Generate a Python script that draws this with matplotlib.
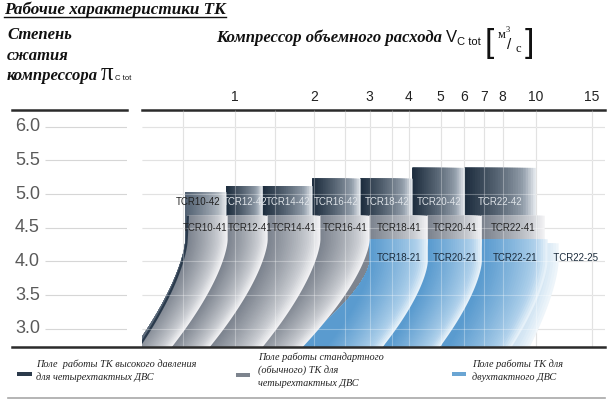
import numpy as np
import matplotlib
matplotlib.use('Agg')
import matplotlib.pyplot as plt
import matplotlib.colors as mcolors
from matplotlib.lines import Line2D
from matplotlib.patches import Rectangle

# ---------------- data ----------------
FRAMES = ['TCR10', 'TCR12', 'TCR14', 'TCR16', 'TCR18', 'TCR20', 'TCR22']

# high pressure fields (-42): right edge flow and max pressure ratio
HP_RIGHT = [0.93, 1.28, 1.98, 2.81, 4.11, 6.05, 10.0]
HP_TOP = [5.03, 5.12, 5.12, 5.23, 5.23, 5.39, 5.39]

# standard four-stroke fields (-41)
STD_RIGHT = [0.94, 1.336, 2.10, 3.0, 4.57, 6.9, 10.67]
STD_RIGHT_BOTTOM = [0.575, 0.803, 1.278, 1.816, 3.30, 4.97, 8.5]
STD_TOP = 4.68

# two-stroke fields (-21, -25)
TS_NAMES = ['TCR18-21', 'TCR20-21', 'TCR22-21', 'TCR22-25']
TS_LEFT = [3.0, 4.57, 6.9, 6.9]
TS_RIGHT = [4.57, 6.9, 10.9, 11.8]
TS_RIGHT_BOTTOM = [3.30, 4.97, 8.5, 9.6]
TS_TOP = [4.33, 4.33, 4.33, 4.27]

FIRST_LEFT = 0.662          # surge line of the smallest frame
FIRST_LEFT_BOTTOM = 0.434

KNEE_STD = 4.32
KNEE_TS = 4.0

X_TICKS = [1, 2, 3, 4, 5, 6, 7, 8, 10, 15]
X_GRID = [0.633, 1, 1.42, 2, 2.5, 3, 3.53, 4, 5, 6, 7, 8, 10, 15]
Y_TICKS = [3.0, 3.5, 4.0, 4.5, 5.0, 5.5, 6.0]
XLIM = (0.442, 16.5)
YLIM = (2.73, 6.25)

# the flow axis of the original is only roughly logarithmic
ANCHOR_V = np.log10([0.4, 1, 2, 3, 4, 5, 6, 7, 8, 10, 15, 20])
ANCHOR_P = np.array([131, 235, 314, 370, 409, 441, 464, 484, 503, 536, 592, 632.0])


def fwd(x):
    x = np.clip(np.asarray(x, dtype=float), 1e-3, None)
    return np.interp(np.log10(x), ANCHOR_V, ANCHOR_P)


def inv(p):
    return 10 ** np.interp(np.asarray(p, dtype=float), ANCHOR_P, ANCHOR_V)


SERIF = 'Liberation Serif'
SANS = 'Liberation Sans'

# colours: (edge highlight, light, dark)
C_HP = ('#dfe4e9', '#9aa5b1', '#1e2e3f')
C_HP_FIRST = ('#e6e9ed', '#b9c0c8', '#536273')
C_STD = ('#f1f1f3', '#d8dade', '#7d848f')
C_TS = ('#e6f1f9', '#b6d5ed', '#5a9bcf')
C_TS25 = ('#eef5fa', '#d6e7f4', '#abcce7')


def mix(a, b, t):
    a = np.array(mcolors.to_rgb(a))
    b = np.array(mcolors.to_rgb(b))
    return tuple(a + (b - a) * t)


def shade(cols, u):
    if u < 0.15:
        return mix(cols[0], cols[1], u / 0.15)
    return mix(cols[1], cols[2], ((u - 0.15) / 0.85) ** 0.8)


def draw_field(ax, xl, xr, xr_bot, top, knee, cols, lean_l=75.0, n=28):
    pl, pr = fwd(xl), fwd(xr)
    lean_r = pr - fwd(xr_bot)
    ys = np.linspace(knee, YLIM[0], 40)
    s = ((knee - ys) / (knee - YLIM[0])) ** 1.5
    left = pl - lean_l * s
    right = pr - lean_r * s
    width = pr - pl
    for k in range(n):
        d = width * k / n
        rr = np.maximum(right - d, left)
        px = np.concatenate([[pl, max(pr - d, pl)], rr, left[::-1]])
        py = np.concatenate([[top, top], ys, ys[::-1]])
        ax.fill(inv(px), py, color=shade(cols, k / (n - 1)), lw=0)


def mid(a, b, shift=0.0):
    return float(inv((fwd(a) + fwd(b)) / 2 + shift))


W, H = 610, 403
fig = plt.figure(figsize=(W / 100, H / 100), dpi=100)


def fx(x):
    return x / W


def fy(y):
    return 1 - y / H


ax = fig.add_axes([fx(142), fy(347), fx(605) - fx(142), fy(110) - fy(347)])
ax.set_xscale('function', functions=(fwd, inv))
ax.set_xlim(*XLIM)
ax.set_ylim(*YLIM)

# grid under the fields
ax.vlines(X_GRID, YLIM[0], YLIM[1], colors='#d6d6d6', lw=0.8, zorder=0)
ax.hlines(Y_TICKS, XLIM[0], XLIM[1], colors='#d6d6d6', lw=0.8, zorder=0)

# fields, largest frame first so smaller frames lie on top
for i in range(len(FRAMES) - 1, -1, -1):
    first = i == 0
    std_left = FIRST_LEFT if first else STD_RIGHT[i - 1]
    hp_left = float(inv(fwd(FIRST_LEFT) - 2.5)) if first else HP_RIGHT[i - 1]
    std_lean = fwd(FIRST_LEFT) - fwd(FIRST_LEFT_BOTTOM) if first else 75.0
    hp_lean = std_lean + 2.5 if first else 75.0
    lean_r = fwd(STD_RIGHT[i]) - fwd(STD_RIGHT_BOTTOM[i])
    hp_bot = float(inv(fwd(HP_RIGHT[i]) - lean_r))
    draw_field(ax, hp_left, HP_RIGHT[i], hp_bot, HP_TOP[i], KNEE_STD,
               C_HP_FIRST if first else C_HP, hp_lean)
    draw_field(ax, std_left, STD_RIGHT[i], STD_RIGHT_BOTTOM[i], STD_TOP, KNEE_STD,
               C_STD, std_lean)
    for j in range(len(TS_NAMES) - 1, -1, -1):
        if TS_NAMES[j].startswith(FRAMES[i]):
            cols = C_TS25 if TS_NAMES[j].endswith('25') else C_TS
            draw_field(ax, TS_LEFT[j], TS_RIGHT[j], TS_RIGHT_BOTTOM[j], TS_TOP[j],
                       KNEE_TS, cols, 75.0)
    if first:
        # dark rim along the surge line of the smallest frame
        ys = np.linspace(KNEE_STD, YLIM[0], 40)
        s = ((KNEE_STD - ys) / (KNEE_STD - YLIM[0])) ** 1.5
        rim = fwd(FIRST_LEFT) - 1.2 - std_lean * s
        ax.plot(np.r_[FIRST_LEFT, inv(rim)], np.r_[STD_TOP, ys], color='#2a3a4c',
                lw=1.6, solid_capstyle='butt')

# grid showing through the fields
ax.vlines(X_GRID, YLIM[0], YLIM[1], colors='white', lw=0.8, alpha=0.3, zorder=5)
ax.hlines(Y_TICKS, XLIM[0], XLIM[1], colors='white', lw=0.8, alpha=0.3, zorder=5)

# field labels
LBL = dict(fontsize=7.0, family=SANS, zorder=6, va='center')
for i, fr in enumerate(FRAMES):
    left = FIRST_LEFT if i == 0 else HP_RIGHT[i - 1]
    xc = float(inv(fwd(HP_RIGHT[0]) - 28)) if i == 0 else mid(left, HP_RIGHT[i])
    ax.text(xc, 4.88, fr + '-42', ha='center',
            color='#222222' if i == 0 else '#dde2e7', **LBL)
    left = FIRST_LEFT if i == 0 else STD_RIGHT[i - 1]
    shift = -3.0 if i == 0 else (2.0 if i == 1 else 0.0)
    ax.text(mid(left, STD_RIGHT[i], shift), 4.49, fr + '-41', ha='center',
            color='#262626', **LBL)
for j, name in enumerate(TS_NAMES):
    if name.endswith('25'):
        ax.text(TS_RIGHT[j - 1], 4.05, '  ' + name, ha='left', color='#1c2c3c', **LBL)
    else:
        ax.text(mid(TS_LEFT[j], TS_RIGHT[j]), 4.05, name, ha='center',
                color='#1c2c3c', **LBL)

ax.xaxis.tick_top()
ax.set_xticks(X_TICKS)
ax.set_xticklabels([str(v) for v in X_TICKS], fontsize=10, family=SANS, color='#222222')
ax.xaxis.set_minor_locator(matplotlib.ticker.NullLocator())
ax.tick_params(axis='x', length=0, pad=4)
ax.set_yticks([])
for side in ['left', 'right', 'bottom']:
    ax.spines[side].set_visible(False)
ax.spines['top'].set_color('#2b2b2b')
ax.spines['top'].set_linewidth(1.8)

# left panel with the pressure ratio scale
ax0 = fig.add_axes([fx(12), fy(347), fx(127) - fx(12), fy(110) - fy(347)])
ax0.set_xlim(0, 1)
ax0.set_ylim(*YLIM)
ax0.hlines(Y_TICKS, 0.29, 1, colors='#d6d6d6', lw=0.8)
for v in Y_TICKS:
    ax0.text(0.026, v, f'{v:.1f}', ha='left', va='center', fontsize=13,
             family=SANS, color='#5a5a5a')
ax0.set_xticks([])
ax0.set_yticks([])
for side in ['left', 'right', 'bottom']:
    ax0.spines[side].set_visible(False)
ax0.spines['top'].set_color('#2b2b2b')
ax0.spines['top'].set_linewidth(1.8)

fig.add_artist(Line2D([fx(12), fx(605)], [fy(347), fy(347)], color='#2b2b2b', lw=1.8))
fig.add_artist(Line2D([fx(8), fx(605)], [fy(398), fy(398)], color='#a8a8a8', lw=1.2))

# header texts
fig.canvas.draw()
rend = fig.canvas.get_renderer()


def put(x, y, s, **kw):
    t = fig.text(fx(x), fy(y), s, va='baseline', **kw)
    bb = t.get_window_extent(rend)
    return t, bb.x1  # right end in pixels


bold_it = dict(family=SERIF, style='italic', weight='bold', color='#111111')
_, x_end = put(4, 14, 'Рабочие характеристики ТК', fontsize=12.3, **bold_it)
fig.add_artist(Line2D([fx(4), x_end / W], [fy(17), fy(17)], color='#111111', lw=1.0))

put(7, 39, 'Степень', fontsize=12, **bold_it)
put(7, 60, 'сжатия', fontsize=12, **bold_it)
_, x_end = put(7, 80, 'компрессора', fontsize=12, **bold_it)
_, x_end = put(x_end + 3, 80, 'π', fontsize=18, family=SERIF, color='#111111')
put(x_end + 1, 80, 'C tot', fontsize=5.5, family=SANS, color='#111111')

_, x_end = put(216, 42, 'Компрессор объемного расхода ', fontsize=12, **bold_it)
_, x_end = put(x_end, 42, 'V', fontsize=12, family=SANS, color='#111111')
_, x_end = put(x_end, 45, 'C tot', fontsize=8, family=SANS, color='#111111')
_, x_b = put(x_end + 4, 52, '[', fontsize=24, family=SANS, color='#111111',
             weight='light')
put(x_b + 3, 38, 'м', fontsize=9, family=SERIF, color='#111111')
put(x_b + 11, 32, '3', fontsize=6, family=SERIF, color='#111111')
put(x_b + 13, 49, '/', fontsize=11, family=SANS, color='#111111')
_, x_c = put(x_b + 21, 52, 'с', fontsize=9, family=SERIF, color='#111111')
put(x_c + 4, 52, ']', fontsize=24, family=SANS, color='#111111', weight='light')

# legend
LEG_COLORS = ['#2b3a4b', '#7d848e', '#6aa5d3']
leg_it = dict(family=SERIF, style='italic', fontsize=7.4, color='#222222')
fig.add_artist(Rectangle((fx(17), fy(375.5)), fx(15), 4 / H, color=LEG_COLORS[0], lw=0))
fig.text(fx(36), fy(367), 'Поле  работы ТК высокого давления', va='baseline', **leg_it)
fig.text(fx(36), fy(380), 'для четырехтактных ДВС', va='baseline', **leg_it)
fig.add_artist(Rectangle((fx(236), fy(376.5)), fx(14), 4 / H, color=LEG_COLORS[1], lw=0))
fig.text(fx(258), fy(360), 'Поле работы стандартного', va='baseline', **leg_it)
fig.text(fx(258), fy(373), '(обычного) ТК для', va='baseline', **leg_it)
fig.text(fx(258), fy(386), 'четырехтактных ДВС', va='baseline', **leg_it)
fig.add_artist(Rectangle((fx(452), fy(375.5)), fx(14), 4 / H, color=LEG_COLORS[2], lw=0))
fig.text(fx(472), fy(367), 'Поле работы ТК для', va='baseline', **leg_it)
fig.text(fx(472), fy(380), 'двухтактного ДВС', va='baseline', **leg_it)

fig.savefig('out.png', dpi=100)
